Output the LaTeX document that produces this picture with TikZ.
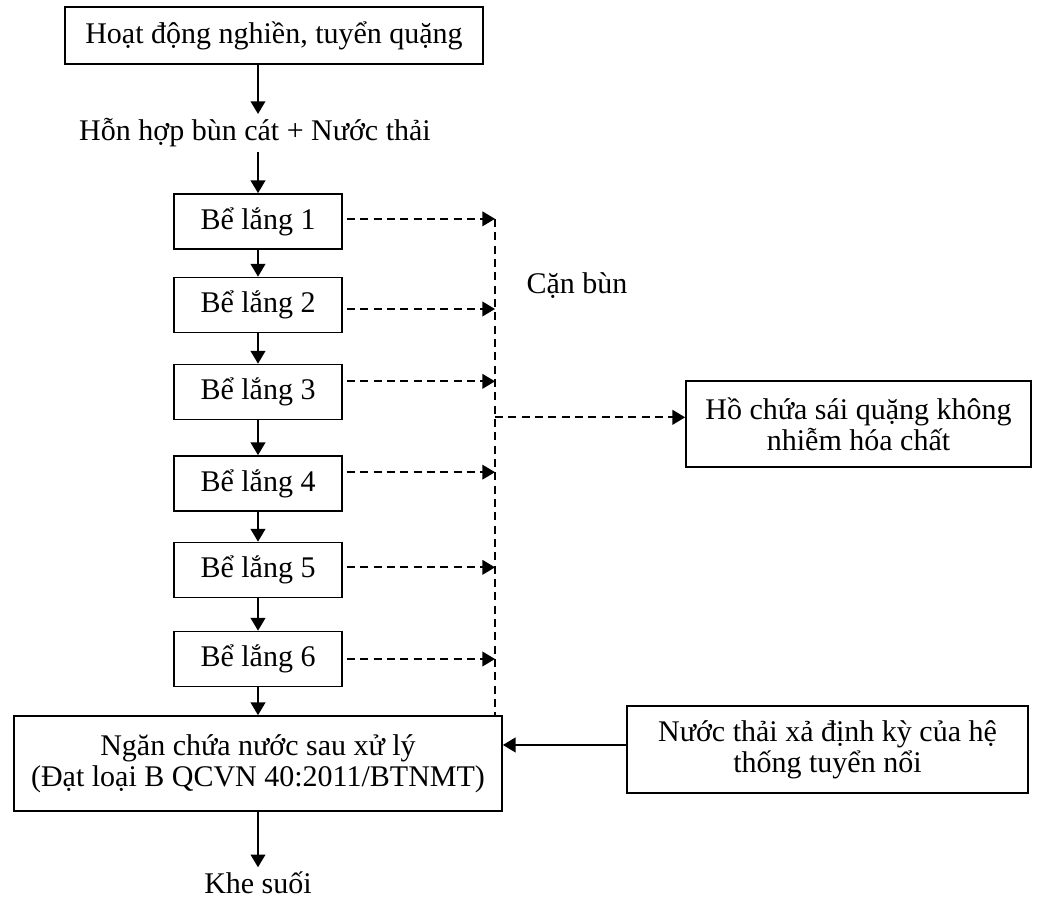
\documentclass[tikz,border=0pt]{standalone}
\usepackage{fontspec}
\setmainfont{Liberation Serif}
\usetikzlibrary{arrows.meta}

\begin{document}
\begin{tikzpicture}[x=0.75pt, y=-0.75pt, font=\fontsize{22.5}{23}\selectfont,
		>={Triangle[length=9.5pt, width=11pt]},
		box/.style={draw, line width=1.3pt, inner sep=0pt, align=center},
		basin/.style={box, minimum width=126pt, minimum height=41.25pt},
		flow/.style={->, line width=1.3pt},
		drain/.style={->, line width=1.3pt, dash pattern=on 6pt off 4pt}]
		\useasboundingbox (0,0) rectangle (1053,899);
		
		% dây chuyền chính
		\node[box, minimum width=313.5pt, minimum height=42.75pt] (mill) at (274,35.5) {Hoạt động nghiền, tuyển quặng};
		\node (mix) at (255,133) {Hỗn hợp bùn cát + Nước thải};
		\foreach \i/\y in {1/221.5, 2/305, 3/392, 4/483.5, 5/570, 6/659}
			\node[basin] (b\i) at (258,\y) {Bể lắng \i};
		\node[box, minimum width=366pt, minimum height=71.25pt] (tank) at (258,763.5) {Ngăn chứa nước sau xử lý\\(Đạt loại B QCVN 40:2011/BTNMT)};
		\node (creek) at (258,883) {Khe suối};
		
		\draw[flow] (mill.south -| b1.north) -- (mix.north -| b1.north);
		\draw[flow] (mix.south -| b1.north) -- (b1.north);
		\foreach \i [evaluate=\i as \j using int(\i+1)] in {1,...,5}
			\draw[flow] (b\i.south) -- (b\j.north);
		\draw[flow] (b6.south) -- (tank.north);
		\draw[flow] (tank.south) -- (creek.north);
		
		% cặn bùn
		\coordinate (spine) at (495,219);
		\node (sludge) at (577,286) {Cặn bùn};
		\node[box, minimum width=258.75pt, minimum height=64.5pt] (pond) at (858.5,424) {Hồ chứa sái quặng không\\nhiễm hóa chất};
		\draw[line width=1.1pt, dash pattern=on 6pt off 4pt] (spine) -- (spine |- tank.north);
		\foreach \i/\dy in {1/2, 2/-3, 3/8, 4/8.5, 5/2, 6/0}
			\draw[drain] ([xshift=3pt, yshift=\dy pt]b\i.east) -- ([yshift=\dy pt]b\i.east -| spine);
		\draw[drain] ([yshift=5pt]pond.west -| spine) -- ([yshift=5pt]pond.west);
		
		% nước thải tuyển nổi
		\node[box, minimum width=300.75pt, minimum height=65.25pt] (float) at (827.5,749.5) {Nước thải xả định kỳ của hệ\\thống tuyển nổi};
		\draw[flow] ([yshift=3.4pt]float.west) -- ([yshift=3.4pt]float.west -| tank.east);
\end{tikzpicture}
\end{document}
